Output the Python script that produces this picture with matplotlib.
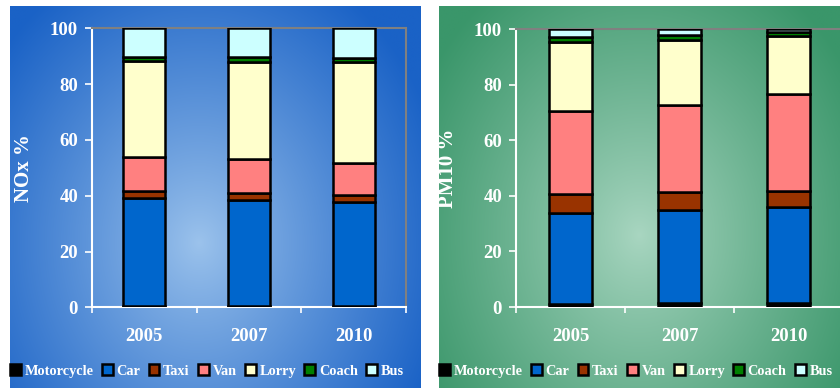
import numpy as np
import matplotlib
matplotlib.use("Agg")
import matplotlib.pyplot as plt
from matplotlib.font_manager import FontProperties

# ---- data (percent share of road-transport emissions) ----
years = ["2005", "2007", "2010"]
vehicles = ["Motorcycle", "Car", "Taxi", "Van", "Lorry", "Coach", "Bus"]
vehicle_colors = ["#000000", "#0066CC", "#993300", "#FF8080", "#FFFFCC", "#008000", "#CCFFFF"]

nox_motorcycle = [0.3, 0.3, 0.3]
nox_car = [38.8, 38.2, 37.4]
nox_taxi = [2.7, 2.6, 2.5]
nox_van = [12.2, 11.9, 11.4]
nox_lorry = [34.2, 34.8, 36.2]
nox_coach = [1.6, 2.0, 1.4]
nox_bus = [10.2, 10.2, 10.8]

pm10_motorcycle = [1.0, 1.5, 1.5]
pm10_car = [32.9, 33.4, 34.3]
pm10_taxi = [6.7, 6.6, 6.0]
pm10_van = [29.8, 31.2, 34.8]
pm10_lorry = [24.9, 23.5, 20.8]
pm10_coach = [1.8, 1.5, 1.6]
pm10_bus = [2.9, 2.3, 1.0]

nox_series = [nox_motorcycle, nox_car, nox_taxi, nox_van, nox_lorry, nox_coach, nox_bus]
pm10_series = [pm10_motorcycle, pm10_car, pm10_taxi, pm10_van, pm10_lorry, pm10_coach, pm10_bus]

W, H = 840, 388
fig = plt.figure(figsize=(W / 100, H / 100), dpi=100)
fig.patch.set_facecolor("white")

tick_font = FontProperties(family="Liberation Serif", weight="bold", size=13.5)
label_font = FontProperties(family="Liberation Serif", weight="bold", size=15)
legend_font = FontProperties(family="Liberation Serif", weight="bold", size=10.3)


def hexrgb(h):
    h = h.lstrip("#")
    return np.array([int(h[i:i + 2], 16) / 255 for i in (0, 2, 4)])


def gradient_panel(rect, edge, centre, cx, cy, rx, ry):
    bg = fig.add_axes(rect, zorder=-10)
    yy, xx = np.mgrid[0:1:300j, 0:1:300j]
    d = np.sqrt(((xx - cx) / rx) ** 2 + ((yy - cy) / ry) ** 2)
    t = np.clip(d, 0, 1) ** 0.9
    rgb = hexrgb(centre) * (1 - t)[..., None] + hexrgb(edge) * t[..., None]
    bg.imshow(rgb, extent=(0, 1, 0, 1), origin="upper", aspect="auto",
              interpolation="bilinear")
    bg.set_axis_off()


def stacked_chart(rect, series, ylabel, label_x):
    ax = fig.add_axes(rect)
    ax.patch.set_visible(False)
    x = np.arange(len(years))
    bottom = np.zeros(len(years))
    handles = []
    for name, vals, col in zip(vehicles, series, vehicle_colors):
        vals = np.asarray(vals, dtype=float)
        b = ax.bar(x, vals, 0.4, bottom=bottom, color=col, edgecolor="black",
                   linewidth=1.8, label=name, zorder=3)
        handles.append(b)
        bottom += vals
    ax.set_xlim(-0.5, 2.5)
    ax.set_ylim(0, 100)
    ax.set_yticks([0, 20, 40, 60, 80, 100])
    ax.set_xticks([-0.5, 0.5, 1.5, 2.5])
    ax.set_xticklabels([])
    ax.set_xticks(x, minor=True)
    ax.set_xticklabels(years, minor=True)
    ax.tick_params(axis="x", which="major", colors="white", direction="out",
                   length=4.5, width=1.2)
    ax.tick_params(axis="x", which="minor", length=0, pad=15, colors="white")
    ax.tick_params(axis="y", colors="white", direction="out", length=5, width=1.2, pad=5)
    for lab in ax.get_xticklabels(minor=True) + ax.get_yticklabels():
        lab.set_fontproperties(tick_font)
        lab.set_color("white")
    for side in ("left", "bottom"):
        ax.spines[side].set_color("white")
        ax.spines[side].set_linewidth(1.5)
    for side in ("top", "right"):
        ax.spines[side].set_color("#808080")
        ax.spines[side].set_linewidth(1.5)
    ax.set_ylabel(ylabel, fontproperties=label_font, color="white")
    ax.yaxis.set_label_coords(label_x, 0.5)
    return ax, handles


def px_rect(x0, y_top, x1, y_bot):
    return [x0 / W, (H - y_bot) / H, (x1 - x0) / W, (y_bot - y_top) / H]


# background panels
gradient_panel([10 / W, 0, 411 / W, 382 / H], "#1A62C6", "#9CC3EC", 0.46, 0.62, 0.62, 0.80)
gradient_panel([439 / W, 0, 401 / W, 382 / H], "#3A966A", "#A9D6C1", 0.50, 0.60, 0.62, 0.80)

ax1, h1 = stacked_chart(px_rect(92, 28.3, 406, 307.3), nox_series, "NOx %", -0.185)
ax2, h2 = stacked_chart(px_rect(516, 29, 843, 307), pm10_series, "PM10 %", -0.177)

for handles, x0 in ((h1, 10), (h2, 439)):
    fig.legend(handles, vehicles, ncol=7, loc="center left",
               bbox_to_anchor=(x0 / W, (H - 371) / H), frameon=False,
               prop=legend_font, labelcolor="white", handlelength=0.75,
               handleheight=0.75, handletextpad=0.25, columnspacing=0.6,
               borderpad=0, borderaxespad=0)

fig.savefig("out.png", dpi=100, facecolor=fig.get_facecolor())
